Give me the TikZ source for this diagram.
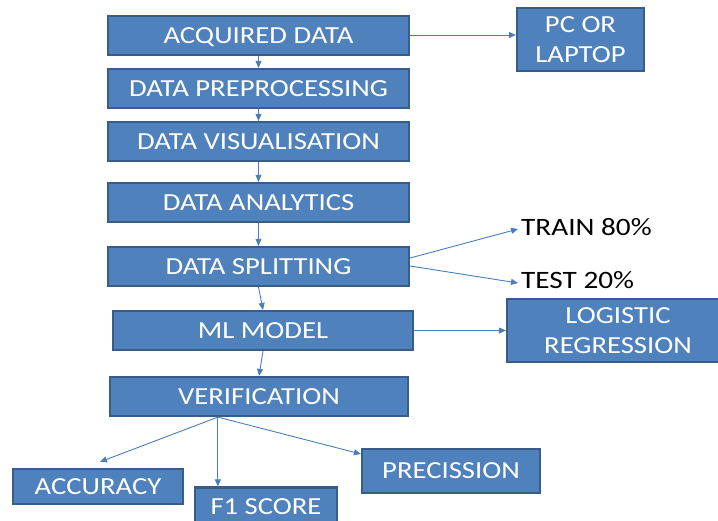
\documentclass[tikz,border=0pt]{standalone}
\usepackage{fontspec}
\setmainfont{Carlito}
\newfontfamily\diagfont[FakeStretch=1.17]{Carlito}
\usetikzlibrary{arrows.meta,calc}
\definecolor{boxfill}{HTML}{4F81BD}
\definecolor{boxline}{HTML}{385D8A}
\definecolor{arr}{HTML}{4A7EBB}
\begin{document}
\begin{tikzpicture}[x=1pt,y=-1pt,
  box/.style={draw=boxline,fill=boxfill,line width=2.2pt,text=white,
    font=\diagfont\fontsize{24.5}{29.5}\selectfont,inner sep=0pt,align=center,text depth=0pt},
  lbl/.style={font=\diagfont\fontsize{25}{27}\selectfont,text=black,inner sep=0pt,anchor=west},
  conn/.style={draw=arr,line width=0.9pt,-{Triangle[length=7pt,width=6pt]}}]
\useasboundingbox (0,0) rectangle (718,520);
\node[box,minimum width=301pt,minimum height=39pt] (acq) at (258.5,35.5) {ACQUIRED DATA};
\node[box,minimum width=301pt,minimum height=39pt] (pre) at (258.5,88.5) {DATA PREPROCESSING};
\node[box,minimum width=301pt,minimum height=39pt] (vis) at (258.5,141.5) {DATA VISUALISATION};
\node[box,minimum width=301pt,minimum height=39pt] (ana) at (258.5,202.5) {DATA ANALYTICS};
\node[box,minimum width=301pt,minimum height=39pt] (spl) at (258.5,266.5) {DATA SPLITTING};
\node[box,minimum width=300pt,minimum height=39pt] (ml) at (263,330.5) {ML MODEL};
\node[box,minimum width=298pt,minimum height=39pt] (ver) at (259,396.5) {VERIFICATION};
\node[box,minimum width=127pt,minimum height=63pt] (pc) at (580.5,39.5) {PC OR\\LAPTOP};
\node[box,minimum width=222pt,minimum height=63pt] (log) at (618,330.5) {LOGISTIC\\REGRESSION};
\node[box,minimum width=170pt,minimum height=35pt] (acc) at (98,486.5) {ACCURACY};
\node[box,minimum width=142pt,minimum height=38pt] (f1) at (266,506.5) {F1 SCORE};
\node[box,minimum width=178pt,minimum height=44pt] (prec) at (451,471) {PRECISSION};
\node[lbl] (train) at (521,227) {TRAIN 80\%};
\node[lbl] (test) at (521,280) {TEST 20\%};
\coordinate (vb) at ($(ver.south west)!0.363!(ver.south east)$);
\draw[conn] (acq.east |- 0,35) -- (pc.west |- 0,35);
\draw[conn] (acq.south) -- (pre.north);
\draw[conn] (pre.south) -- (vis.north);
\draw[conn] (vis.south) -- (ana.north);
\draw[conn] (ana.south) -- (spl.north);
\draw[conn] (spl.south) -- (ml.north);
\draw[conn] (ml.south) -- (ver.north);
\draw[conn] ([yshift=8.5pt]spl.east) -- ([xshift=-3pt,yshift=-2pt]train.west);
\draw[conn] ([yshift=0.5pt]spl.east) -- ([xshift=-3pt,yshift=-3pt]test.west);
\draw[conn] (ml.east) -- (log.west);
\draw[conn] (vb) -- ([xshift=2pt,yshift=6pt]acc.north);
\draw[conn] (vb) -- (f1.north -| vb);
\draw[conn] (vb) -- (prec.west |- 0,454);
\end{tikzpicture}
\end{document}
